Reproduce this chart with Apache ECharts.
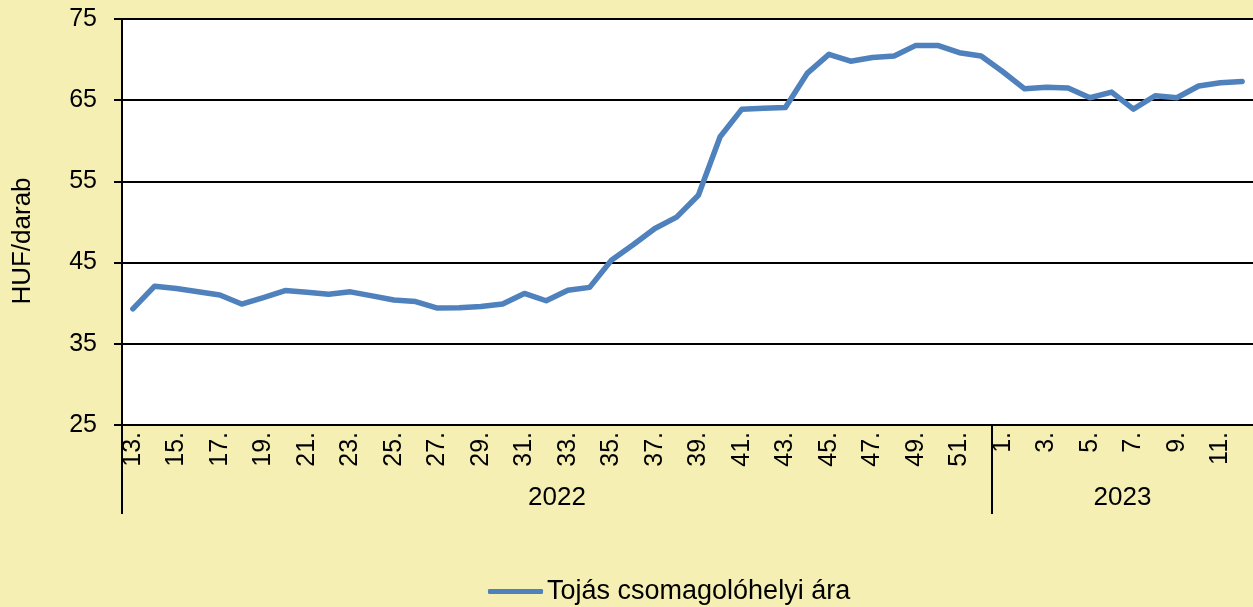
<!DOCTYPE html>
<html>
<head>
<meta charset="utf-8">
<script src="https://cdn.jsdelivr.net/npm/echarts@6/dist/echarts.min.js"></script>
<style>
	html, body { margin: 0; padding: 0; background: #F5EFB3; }
	#chart { width: 1253px; height: 607px; }
</style>
</head>
<body>
<div id="chart"></div>
<script>
// hetek: 2022. 13-52. hét, 2023. 1-12. hét
var weeks2022 = [13,14,15,16,17,18,19,20,21,22,23,24,25,26,27,28,29,30,31,32,
	33,34,35,36,37,38,39,40,41,42,43,44,45,46,47,48,49,50,51,52];
var weeks2023 = [1,2,3,4,5,6,7,8,9,10,11,12];
var years = ['2022', '2023'];

// Tojás csomagolóhelyi ára (HUF/darab)
var prices2022 = [39.3,42.1,41.8,41.4,41.0,39.9,40.7,41.55,41.35,41.1,
	41.4,40.9,40.4,40.2,39.4,39.45,39.6,39.9,41.2,40.3,
	41.6,41.95,45.3,47.2,49.2,50.6,53.3,60.5,63.9,64.0,
	64.1,68.3,70.65,69.8,70.25,70.45,71.75,71.75,70.85,70.45];
var prices2023 = [68.5,66.4,66.6,66.5,65.3,66.0,63.9,65.55,65.3,66.75,67.15,67.3];

var yTicks = { min: 25, max: 75, interval: 10 };

var categories = weeks2022.concat(weeks2023).map(function(w){ return w + '.'; });
var values = prices2022.concat(prices2023);
var n = categories.length;

var font = 'Liberation Sans, Arial, sans-serif';

var option = {
	backgroundColor: '#F5EFB3',
	animation: false,
	grid: {
		left: 122,
		right: 0,
		top: 19,
		bottom: 182,
		show: true,
		backgroundColor: '#ffffff',
		borderWidth: 0
	},
	legend: {
		top: 578,
		left: 488,
		padding: 0,
		icon: 'roundRect',
		itemWidth: 55,
		itemHeight: 5,
		itemGap: 4,
		textStyle: { fontFamily: font, fontSize: 27, color: '#000', padding: [0, 0, 0, -1] },
		data: ['Tojás csomagolóhelyi ára']
	},
	xAxis: [
		{
			type: 'category',
			data: categories,
			boundaryGap: true,
			axisLine: { lineStyle: { color: '#000', width: 2 } },
			axisTick: { show: false },
			axisLabel: {
				interval: 1,
				rotate: 90,
				margin: 7,
				fontFamily: font,
				fontSize: 25,
				color: '#000'
			},
			splitLine: { show: false }
		},
		{
			// évek szerinti csoportosítás
			type: 'value',
			position: 'bottom',
			min: 0,
			max: n,
			axisLine: { show: false },
			splitLine: { show: false },
			axisTick: {
				show: true,
				customValues: [0, weeks2022.length],
				length: 89,
				lineStyle: { color: '#000', width: 2 }
			},
			axisLabel: {
				customValues: [weeks2022.length / 2, weeks2022.length + weeks2023.length / 2],
				formatter: function(v){ return v < weeks2022.length ? years[0] : years[1]; },
				margin: 60,
				fontFamily: font,
				fontSize: 26,
				color: '#000'
			}
		}
	],
	yAxis: {
		type: 'value',
		min: yTicks.min,
		max: yTicks.max,
		interval: yTicks.interval,
		name: 'HUF/darab',
		nameLocation: 'middle',
		nameGap: 86,
		nameTextStyle: { fontFamily: font, fontSize: 26, color: '#000', padding: [0, 38, 0, 0] },
		axisLine: { show: true, lineStyle: { color: '#000', width: 2 } },
		axisTick: { show: true, length: 8, lineStyle: { color: '#000', width: 2 } },
		axisLabel: { margin: 25, fontFamily: font, fontSize: 25, color: '#000' },
		splitLine: { lineStyle: { color: '#000', width: 2 } }
	},
	series: [
		{
			name: 'Tojás csomagolóhelyi ára',
			type: 'line',
			xAxisIndex: 0,
			data: values,
			symbol: 'none',
			lineStyle: { color: '#4F81BD', width: 5.5, cap: 'round', join: 'round' },
			itemStyle: { color: '#4F81BD' }
		}
	]
};

var myChart = echarts.init(document.getElementById('chart'));
myChart.setOption(option);
</script>
</body>
</html>
